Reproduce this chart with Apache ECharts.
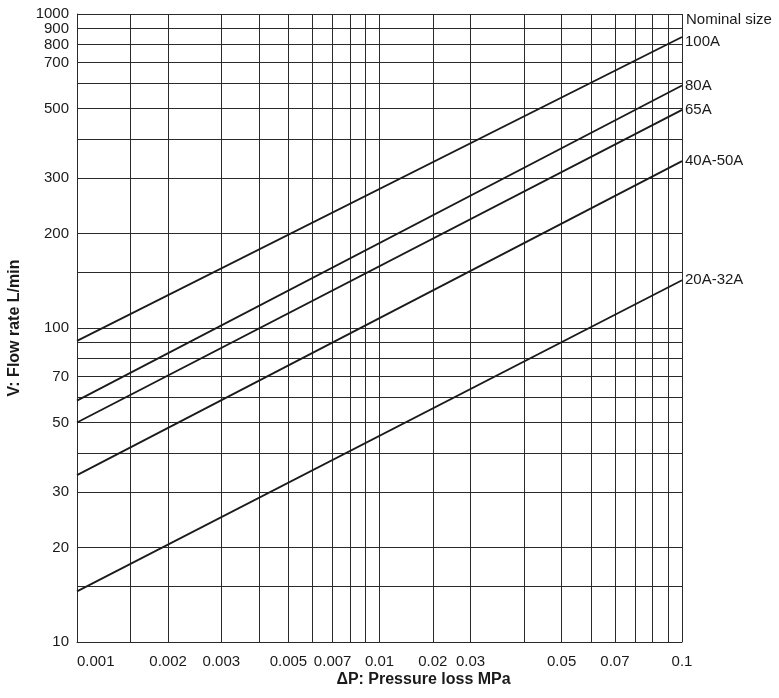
<!DOCTYPE html>
<html>
<head>
<meta charset="utf-8">
<script src="https://cdn.jsdelivr.net/npm/echarts@6/dist/echarts.min.js"></script>
<style>
  html, body { margin: 0; padding: 0; background: #fff; }
  #chart { width: 779px; height: 698px; }
</style>
</head>
<body>
<div id="chart"></div>
<script>
// pressure loss (MPa) at the two ends of every line
const pressure = [0.001, 0.1];

// flow rate (L/min) per nominal size, read at 0.001 and 0.1 MPa
const sizes = ['100A', '80A', '65A', '40A-50A', '20A-32A'];
const flow100A = [91, 845];
const flow80A = [58.7, 592];
const flow65A = [50, 495];
const flow40A50A = [34, 340];
const flow20A32A = [14.5, 142];

// grid lines
const xGrid = [0.001, 0.0015, 0.002, 0.003, 0.004, 0.005, 0.006, 0.007, 0.008, 0.009,
  0.01, 0.015, 0.02, 0.03, 0.04, 0.05, 0.06, 0.07, 0.08, 0.09, 0.1];
const yGrid = [10, 15, 20, 30, 40, 50, 60, 70, 80, 90,
  100, 150, 200, 300, 400, 500, 600, 700, 800, 900, 1000];

// tick labels, and the grid line each one is printed under in the source
const xTickLabels = ['0.001', '0.002', '0.003', '0.005', '0.007', '0.01', '0.02', '0.03', '0.05', '0.07', '0.1'];
const xTickAt = [0.001, 0.002, 0.003, 0.005, 0.007, 0.01, 0.015, 0.02, 0.04, 0.06, 0.1];
const yTickLabels = [10, 20, 30, 50, 70, 100, 200, 300, 500, 700, 800, 900, 1000];

const flows = [flow100A, flow80A, flow65A, flow40A50A, flow20A32A];
const font = 'Liberation Sans, Arial, Helvetica, sans-serif';
const ink = '#1a1a1a';
const rule = '#2a2a2a';

// labels at the top sit close together, so they are split over two
// identical left axes and echarts does not drop any of them
function yAxisFor(labels, main) {
  return {
    type: 'log',
    logBase: 10,
    min: 10,
    max: 1000,
    position: 'left',
    name: main ? 'V: Flow rate L/min' : '',
    nameLocation: 'middle',
    nameGap: 54,
    nameMoveOverlap: false,
    nameTextStyle: { fontSize: 16, fontWeight: 'bold', color: ink },
    axisLine: { show: main, lineStyle: { color: rule, width: 1 } },
    axisTick: { show: false, customValues: yGrid },
    splitLine: { show: main, lineStyle: { color: rule, width: 1 } },
    axisLabel: {
      customValues: labels,
      showMinLabel: true,
      showMaxLabel: true,
      margin: 8,
      fontSize: 15,
      color: ink,
      formatter: function (v) { return String(Math.round(v)); }
    }
  };
}

let chart = echarts.init(document.getElementById('chart'));

let option = {
  animation: false,
  textStyle: { fontFamily: font },
  title: {
    text: 'Nominal size',
    left: 686,
    top: 12,
    padding: 0,
    textStyle: { fontSize: 15, fontWeight: 'normal', color: ink, fontFamily: font }
  },
  grid: { left: 77, right: 97, top: 14, bottom: 56, outerBoundsMode: 'none' },
  xAxis: {
    type: 'log',
    logBase: 10,
    min: 0.001,
    max: 0.1,
    name: 'ΔP: Pressure loss MPa',
    nameLocation: 'middle',
    nameGap: 30,
    nameMoveOverlap: false,
    nameTextStyle: { fontSize: 16, fontWeight: 'bold', color: ink, padding: [0, 0, 0, 88] },
    axisLine: { show: true, lineStyle: { color: rule, width: 1 } },
    axisTick: { show: false, customValues: xGrid },
    splitLine: { show: true, lineStyle: { color: rule, width: 1 } },
    axisLabel: {
      customValues: xTickAt,
      alignMinLabel: 'left',
      showMinLabel: true,
      showMaxLabel: true,
      margin: 12,
      fontSize: 15,
      color: ink,
      formatter: function (v) {
        for (let i = 0; i < xTickAt.length; i++) {
          if (Math.abs(xTickAt[i] - v) < 1e-9) return xTickLabels[i];
        }
        return '';
      }
    }
  },
  yAxis: [
    yAxisFor(yTickLabels.filter(function (v, i) { return i % 2 === 0; }), true),
    yAxisFor(yTickLabels.filter(function (v, i) { return i % 2 === 1; }), false)
  ],
  series: sizes.map(function (name, i) {
    return {
      name: name,
      type: 'line',
      symbol: 'none',
      yAxisIndex: 0,
      data: pressure.map(function (p, j) { return [p, flows[i][j]]; }),
      lineStyle: { color: ink, width: 1.8 },
      endLabel: {
        show: true,
        formatter: name,
        distance: 3,
        offset: i === 0 ? [0, 5] : [0, 0],
        fontSize: 15,
        color: ink,
        fontFamily: font
      }
    };
  })
};

chart.setOption(option);
</script>
</body>
</html>
